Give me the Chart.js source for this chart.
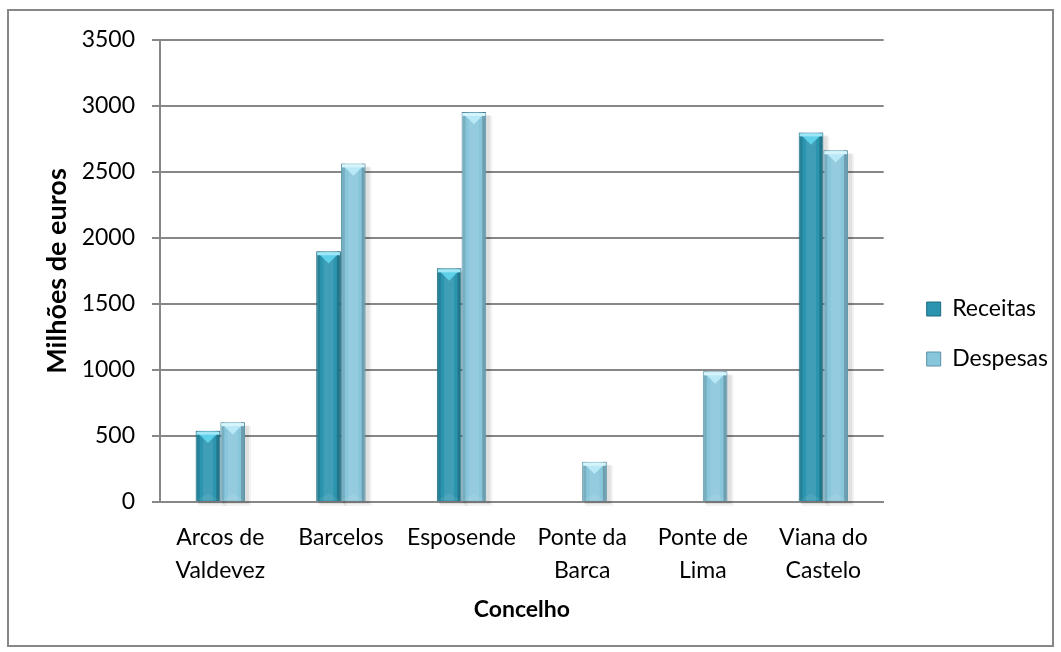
<!DOCTYPE html>
<html>
<head>
<meta charset="utf-8">
<script src="https://cdn.jsdelivr.net/npm/chart.js@4/dist/chart.umd.min.js"></script>
<style>
  html, body { margin: 0; padding: 0; background: #fff; }
  #wrap { width: 1061px; height: 652px; }
</style>
</head>
<body>
<div id="wrap"><canvas id="chart" width="1061" height="652"></canvas></div>
<script>
// receitas e despesas por concelho, em milhões de euros
const concelhos = [
  ["Arcos de", "Valdevez"],
  "Barcelos",
  "Esposende",
  ["Ponte da", "Barca"],
  ["Ponte de", "Lima"],
  ["Viana do", "Castelo"]
]
const receitas = [540, 1900, 1770, null, null, 2800]
const despesas = [605, 2565, 2955, 305, 990, 2665]
const yTicks = [0, 500, 1000, 1500, 2000, 2500, 3000, 3500]

const FONT = "Lato, 'Open Sans', sans-serif"
const GRID = "#878787"

function barBox(bar) {
  const { x, y, base, width } = bar.getProps(["x", "y", "base", "width"], true)
  return { x, y, base, width, l: x - width / 2, r: x + width / 2, h: base - y }
}

// soft shadow under the bars, light chevron on top, darker side edges
const bevel = {
  id: "bevel",
  beforeDatasetsDraw(chart) {
    const ctx = chart.ctx
    ctx.save()
    chart.data.datasets.forEach((ds, i) => {
      chart.getDatasetMeta(i).data.forEach((bar, j) => {
        if (ds.data[j] == null) return
        const b = barBox(bar)
        ctx.fillStyle = "rgba(0,0,0,0.07)"
        ctx.fillRect(b.l + 2, b.y + 3, b.width + 2, b.h)
        ctx.fillStyle = "rgba(0,0,0,0.05)"
        ctx.fillRect(b.l + 3, b.y + 4, b.width + 3, b.h + 1)
      })
    })
    ctx.restore()
  },
  afterDatasetsDraw(chart) {
    const ctx = chart.ctx
    chart.data.datasets.forEach((ds, i) => {
      chart.getDatasetMeta(i).data.forEach((bar, j) => {
        if (ds.data[j] == null) return
        const { x, y, base, width, l, r, h } = barBox(bar)
        ctx.save()
        ctx.fillStyle = "rgba(0,0,0,0.12)"
        ctx.fillRect(l + 1, y, 3, h)
        ctx.fillStyle = "rgba(0,0,0,0.2)"
        ctx.fillRect(r - 4, y, 3, h)
        ctx.fillStyle = "rgba(255,255,255,0.10)"
        ctx.fillRect(x - width * 0.2, y, width * 0.4, h)
        // top chevron
        const d = Math.min(width * 0.5, h)
        ctx.beginPath()
        ctx.moveTo(l + 1, y + 1)
        ctx.lineTo(r - 1, y + 1)
        ctx.lineTo(x, y + d)
        ctx.closePath()
        ctx.fillStyle = ds.bevelColor
        ctx.fill()
        ctx.fillStyle = ds.edgeColor
        ctx.fillRect(l + 1, y + 1, width - 2, 3)
        // faint chevron at the base
        if (h > d * 2) {
          ctx.beginPath()
          ctx.moveTo(l + 1, base - 1)
          ctx.lineTo(r - 1, base - 1)
          ctx.lineTo(x, base - d * 0.6)
          ctx.closePath()
          ctx.fillStyle = "rgba(255,255,255,0.08)"
          ctx.fill()
        }
        ctx.restore()
      })
    })
  }
}

// white background and grey frame round the whole chart
const frame = {
  id: "frame",
  beforeDraw(chart) {
    const ctx = chart.ctx
    ctx.save()
    ctx.fillStyle = "#fff"
    ctx.fillRect(0, 0, chart.width, chart.height)
    ctx.strokeStyle = "#878787"
    ctx.lineWidth = 2
    ctx.strokeRect(8, 10, 1045, 636)
    ctx.restore()
  }
}

new Chart(document.getElementById("chart"), {
  type: "bar",
  data: {
    labels: concelhos,
    datasets: [{
      label: "Receitas",
      data: receitas,
      backgroundColor: "#2b94ae",
      borderColor: "#1d6a80",
      borderWidth: 1,
      bevelColor: "#5fd0ea",
      edgeColor: "#9fe6f6",
      barPercentage: 1,
      categoryPercentage: 0.41
    }, {
      label: "Despesas",
      data: despesas,
      backgroundColor: "#88c6db",
      borderColor: "#5a93a8",
      borderWidth: 1,
      bevelColor: "#b9e9f6",
      edgeColor: "#d6f4fb",
      barPercentage: 1,
      categoryPercentage: 0.41
    }]
  },
  options: {
    responsive: false,
    animation: false,
    devicePixelRatio: 1,
    layout: {
      padding: { top: 40, right: 3, bottom: 24, left: 0 }
    },
    scales: {
      x: {
        grid: { display: false, drawTicks: false },
        border: { display: true, color: GRID, width: 2 },
        ticks: {
          color: "#000",
          padding: 19,
          maxRotation: 0,
          autoSkip: false,
          font: { family: FONT, size: 23, lineHeight: 1.43 }
        },
        title: {
          display: true,
          text: "Concelho",
          color: "#000",
          padding: { top: 0, bottom: 5 },
          font: { family: FONT, size: 23, weight: "bold" }
        },
        afterFit(s) { s.height = 126 }
      },
      y: {
        min: 0,
        max: 3500,
        afterBuildTicks(s) { s.ticks = yTicks.map(v => ({ value: v })) },
        grid: { color: GRID, lineWidth: 2, tickLength: 8 },
        border: { display: true, color: GRID, width: 2 },
        ticks: {
          color: "#000",
          padding: 17,
          font: { family: FONT, size: 23 },
          callback: v => String(v)
        },
        title: {
          display: true,
          text: "Milhões de euros",
          color: "#000",
          padding: { top: 41, bottom: 0 },
          font: { family: FONT, size: 27, weight: "bold" }
        },
        afterFit(s) { s.width = 160 }
      },
      gap: {
        position: "right",
        display: true,
        grid: { display: false },
        border: { display: false },
        ticks: { display: false },
        afterFit(s) { s.width = 16 }
      }
    },
    plugins: {
      legend: {
        position: "right",
        labels: {
          color: "#000",
          boxWidth: 14,
          boxHeight: 14,
          padding: 27,
          font: { family: FONT, size: 23 }
        }
      },
      tooltip: { enabled: false }
    }
  },
  plugins: [frame, bevel]
})
</script>
</body>
</html>
